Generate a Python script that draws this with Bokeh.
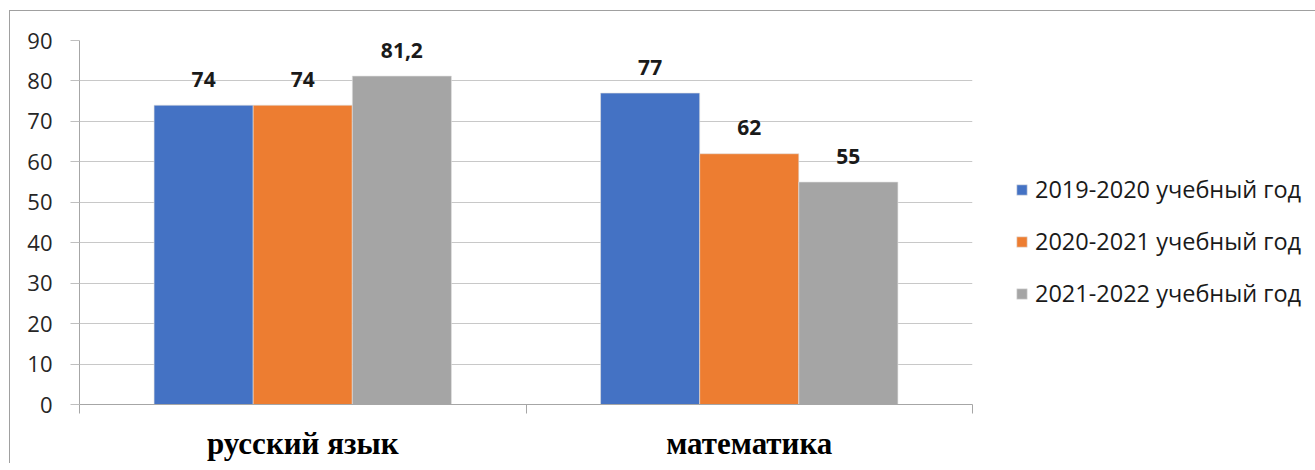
from bokeh.plotting import figure
from bokeh.models import (ColumnDataSource, FixedTicker, Legend, LegendItem, Range1d)
from bokeh.core.properties import value
from bokeh.embed import file_html
from bokeh.resources import INLINE

categories = ["русский язык", "математика"]
series_names = ["2019-2020 учебный год", "2020-2021 учебный год", "2021-2022 учебный год"]
values_2019 = [74, 77]
values_2020 = [74, 62]
values_2021 = [81.2, 55]
label_2019 = ["74", "77"]
label_2020 = ["74", "62"]
label_2021 = ["81,2", "55"]
y_ticks = [0, 10, 20, 30, 40, 50, 60, 70, 80, 90]

colors = ["#4472C4", "#ED7D31", "#A5A5A5"]
series_vals = [values_2019, values_2020, values_2021]
series_labels = [label_2019, label_2020, label_2021]

bar_w = 0.222
offsets = [-bar_w, 0.0, bar_w]

p = figure(
    output_backend="svg", toolbar_location=None,
    frame_width=893, frame_height=364,
    min_border_left=69, min_border_top=29, min_border_bottom=57, min_border_right=330,
    x_range=Range1d(0, len(categories)), y_range=Range1d(0, 90),
)
p.styles = {"border-left": "1.5px solid #a0a0a0", "border-top": "1.5px solid #a0a0a0",
            "margin-left": "9px", "margin-top": "10px"}
p.outline_line_color = None
p.background_fill_color = "white"

renderers = []
for k in range(3):
    xs = [i + 0.5 + offsets[k] for i in range(len(categories))]
    src = ColumnDataSource(dict(x=xs, top=series_vals[k], lab=series_labels[k]))
    r = p.vbar(x="x", top="top", width=bar_w, bottom=0, source=src,
               fill_color=colors[k], line_color="#e0e0e0", line_width=0.6)
    renderers.append(r)
    p.text(x="x", y="top", text="lab", source=src, text_align="center",
           text_baseline="alphabetic", y_offset=-26,
           text_font=value("Open Sans"), text_font_style="bold",
           text_font_size="21px", text_color="#1a1a1a")

# y axis
p.yaxis.ticker = FixedTicker(ticks=y_ticks)
p.yaxis.axis_line_color = "#a6a6a6"
p.yaxis.major_tick_line_color = "#bfbfbf"
p.yaxis.major_tick_out = 9
p.yaxis.major_tick_in = 0
p.yaxis.minor_tick_line_color = None
p.yaxis.major_label_standoff = 18
p.yaxis.major_label_text_font = "Open Sans"
p.yaxis.major_label_text_font_size = "22px"
p.yaxis.major_label_text_color = "#262626"

# x axis
p.xaxis.ticker = FixedTicker(ticks=[i + 0.5 for i in range(len(categories))],
                             minor_ticks=list(range(len(categories) + 1)))
p.xaxis.major_label_overrides = {i + 0.5: c for i, c in enumerate(categories)}
p.xaxis.axis_line_color = "#a6a6a6"
p.xaxis.major_tick_line_color = None
p.xaxis.major_tick_out = 0
p.xaxis.major_tick_in = 0
p.xaxis.minor_tick_line_color = "#a6a6a6"
p.xaxis.minor_tick_out = 9
p.xaxis.minor_tick_in = 0
p.xaxis.major_label_standoff = 12
p.xaxis.major_label_text_font = "Liberation Serif"
p.xaxis.major_label_text_font_style = "bold"
p.xaxis.major_label_text_font_size = "31px"
p.xaxis.major_label_text_color = "#000000"

p.xgrid.grid_line_color = None
p.ygrid.ticker = FixedTicker(ticks=y_ticks)
p.ygrid.grid_line_color = "#c8c8c8"

legend = Legend(
    items=[LegendItem(label=series_names[k], renderers=[renderers[k]]) for k in range(3)],
    location=(43, 95),
    orientation="vertical",
    glyph_width=13, glyph_height=13,
    label_height=22, spacing=20, padding=0, margin=0,
    label_standoff=7,
    label_text_font="Open Sans", label_text_font_size="23.5px", label_text_color="#1a1a1a",
    border_line_color=None, background_fill_alpha=0,
)
p.add_layout(legend, "right")

open("out.html", "w").write(file_html(p, INLINE))
